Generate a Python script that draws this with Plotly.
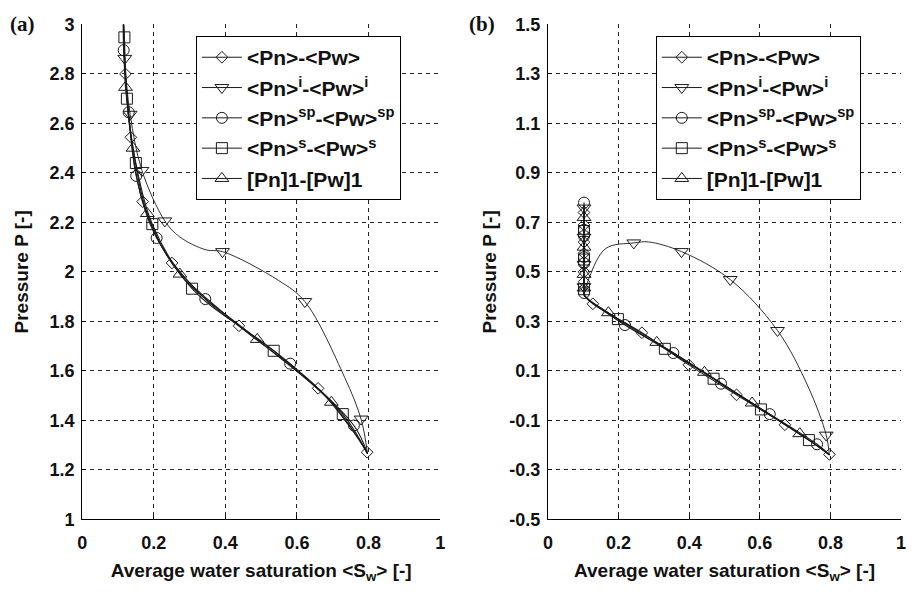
import plotly.graph_objects as go

# ---------------- Panel (a) data ----------------
A_START = (0.115, 3.05)
A_END = (0.797, 1.265)

A_D_X = [0.121, 0.136, 0.169, 0.251, 0.438, 0.659, 0.796]
A_D_Y = [2.800, 2.544, 2.284, 2.036, 1.782, 1.529, 1.271]

A_I_X = [0.119, 0.134, 0.167, 0.231, 0.392, 0.622, 0.779]
A_I_Y = [2.863, 2.637, 2.410, 2.206, 2.082, 1.880, 1.405]
A_I_PATH_X = [0.115, 0.119, 0.134, 0.167, 0.231, 0.273, 0.346, 0.392, 0.549, 0.622, 0.733, 0.779, 0.797]
A_I_PATH_Y = [3.05, 2.863, 2.637, 2.410, 2.206, 2.141, 2.089, 2.082, 1.965, 1.880, 1.574, 1.405, 1.265]

A_SP_X = [0.116, 0.130, 0.151, 0.208, 0.344, 0.581, 0.759]
A_SP_Y = [2.896, 2.645, 2.388, 2.137, 1.890, 1.629, 1.379]

A_S_X = [0.118, 0.125, 0.150, 0.196, 0.307, 0.535, 0.728]
A_S_Y = [2.948, 2.700, 2.440, 2.193, 1.932, 1.681, 1.425]

A_1_X = [0.121, 0.142, 0.182, 0.273, 0.489, 0.696]
A_1_Y = [2.746, 2.500, 2.236, 1.991, 1.727, 1.473]

# ---------------- Panel (b) data ----------------
B_START = (0.102, 0.77)
B_CORNER = (0.103, 0.405)
B_END = (0.797, -0.24)

B_D_X = [0.102, 0.102, 0.102, 0.102, 0.102, 0.102, 0.127, 0.266, 0.399, 0.534, 0.671, 0.797]
B_D_Y = [0.740, 0.690, 0.620, 0.575, 0.500, 0.460, 0.371, 0.254, 0.124, 0.003, -0.118, -0.238]

B_I_X = [0.102, 0.102, 0.102, 0.102, 0.243, 0.378, 0.516, 0.650, 0.788]
B_I_Y = [0.758, 0.640, 0.530, 0.440, 0.617, 0.582, 0.469, 0.263, -0.160]
B_I_PATH_X = [0.102, 0.102, 0.102, 0.102, 0.102, 0.103, None,
              0.103, 0.117, 0.164, 0.243, 0.285, 0.378, 0.516, 0.650, 0.737, 0.788, 0.797]
B_I_PATH_Y = [0.770, 0.758, 0.640, 0.530, 0.440, 0.410, None,
              0.410, 0.478, 0.595, 0.617, 0.621, 0.582, 0.469, 0.263, 0.035, -0.160, -0.240]

B_SP_X = [0.102, 0.102, 0.102, 0.102, 0.102, 0.102, 0.218, 0.355, 0.490, 0.628, 0.762]
B_SP_Y = [0.780, 0.670, 0.645, 0.560, 0.535, 0.415, 0.285, 0.172, 0.048, -0.075, -0.197]

B_S_X = [0.102, 0.102, 0.102, 0.198, 0.331, 0.469, 0.603, 0.739]
B_S_Y = [0.665, 0.550, 0.430, 0.309, 0.189, 0.068, -0.056, -0.180]

B_1_X = [0.102, 0.102, 0.102, 0.102, 0.171, 0.308, 0.443, 0.578, 0.713]
B_1_Y = [0.720, 0.600, 0.490, 0.435, 0.335, 0.215, 0.094, -0.030, -0.154]

# ---------------- Axis ticks / labels ----------------
X_TICKS = [0, 0.2, 0.4, 0.6, 0.8, 1.0]
X_TICKTEXT = ["0", "0.2", "0.4", "0.6", "0.8", "1"]
A_Y_TICKS = [1.0, 1.2, 1.4, 1.6, 1.8, 2.0, 2.2, 2.4, 2.6, 2.8, 3.0]
A_Y_TICKTEXT = ["1", "1.2", "1.4", "1.6", "1.8", "2", "2.2", "2.4", "2.6", "2.8", "3"]
B_Y_TICKS = [-0.5, -0.3, -0.1, 0.1, 0.3, 0.5, 0.7, 0.9, 1.1, 1.3, 1.5]
B_Y_TICKTEXT = ["-0.5", "-0.3", "-0.1", "0.1", "0.3", "0.5", "0.7", "0.9", "1.1", "1.3", "1.5"]

LEGEND_NAMES = [
    "&lt;Pn&gt;-&lt;Pw&gt;",
    "&lt;Pn&gt;<sup>i</sup>-&lt;Pw&gt;<sup>i</sup>",
    "&lt;Pn&gt;<sup>sp</sup>-&lt;Pw&gt;<sup>sp</sup>",
    "&lt;Pn&gt;<sup>s</sup>-&lt;Pw&gt;<sup>s</sup>",
    "[Pn]1-[Pw]1",
]
SYMBOLS = ["diamond-open", "triangle-down-open", "circle-open", "square-open", "triangle-up-open"]
SIZES = [9, 12, 11, 11, 12]

INK = "#1a1a1a"
SANS = "Liberation Sans"

fig = go.Figure()


def add_line(xs, ys, xa, ya, width=1.1):
    fig.add_trace(go.Scatter(x=xs, y=ys, mode="lines", xaxis=xa, yaxis=ya,
                             line=dict(color=INK, width=width, shape="spline", smoothing=1.0),
                             connectgaps=False, showlegend=False, hoverinfo="skip"))


def add_marks(xs, ys, xa, ya, k):
    fig.add_trace(go.Scatter(x=xs, y=ys, mode="markers", xaxis=xa, yaxis=ya,
                             marker=dict(symbol=SYMBOLS[k], size=SIZES[k], color=INK,
                                         line=dict(color=INK, width=1)),
                             showlegend=False))


# panel (a)
a_main = [(A_D_X, A_D_Y, 0), (A_SP_X, A_SP_Y, 2), (A_S_X, A_S_Y, 3), (A_1_X, A_1_Y, 4)]
for xs, ys, k in a_main:
    add_line([A_START[0]] + xs + [A_END[0]], [A_START[1]] + ys + [A_END[1]], "x", "y")
add_line(A_I_PATH_X, A_I_PATH_Y, "x", "y", width=0.9)
for xs, ys, k in a_main + [(A_I_X, A_I_Y, 1)]:
    add_marks(xs, ys, "x", "y", k)


# panel (b)
def b_path(xs, ys):
    nv = sum(1 for v in xs if v <= 0.105)
    px = [B_START[0]] + xs[:nv] + [B_CORNER[0]] + xs[nv:] + [B_END[0]]
    py = [B_START[1]] + ys[:nv] + [B_CORNER[1]] + ys[nv:] + [B_END[1]]
    return px, py


b_main = [(B_D_X, B_D_Y, 0), (B_SP_X, B_SP_Y, 2), (B_S_X, B_S_Y, 3), (B_1_X, B_1_Y, 4)]
for xs, ys, k in b_main:
    px, py = b_path(xs, ys)
    add_line(px, py, "x2", "y2")
add_line(B_I_PATH_X, B_I_PATH_Y, "x2", "y2", width=0.9)
for xs, ys, k in b_main + [(B_I_X, B_I_Y, 1)]:
    add_marks(xs, ys, "x2", "y2", k)

# legend entries
for lg in ["legend", "legend2"]:
    for k, name in enumerate(LEGEND_NAMES):
        fig.add_trace(go.Scatter(x=[None], y=[None], mode="lines+markers", name=name,
                                 legend=lg, legendgroup=lg + str(k),
                                 line=dict(color=INK, width=1),
                                 marker=dict(symbol=SYMBOLS[k], size=SIZES[k], color=INK,
                                             line=dict(color=INK, width=1)),
                                 xaxis="x" if lg == "legend" else "x2",
                                 yaxis="y" if lg == "legend" else "y2"))

W, H = 914, 594
ydom = [(H - 527) / H, (H - 15) / H]

tickfont = dict(family=SANS, size=18, color="#111", weight="bold")
grid = dict(showgrid=True, gridcolor="#222", gridwidth=1, griddash="4px,4px",
            showline=True, linecolor="#000", linewidth=1, mirror=False,
            ticks="inside", ticklen=4, tickcolor="#000", zeroline=False,
            tickfont=tickfont)

title_font = dict(family=SANS, size=19, color="#111", weight="bold")
xtitle = "Average water saturation &lt;S<sub>w</sub>&gt; [-]"
legfont = dict(family=SANS, size=21, color="#111", weight="bold")

fig.update_layout(
    width=W, height=H, margin=dict(l=0, r=0, t=0, b=0),
    paper_bgcolor="white", plot_bgcolor="white",
    xaxis=dict(domain=[78 / W, 440 / W], range=[0, 1], tickvals=X_TICKS, ticktext=X_TICKTEXT,
               ticklabelstandoff=7,
               title=dict(text=xtitle, font=title_font, standoff=11), anchor="y", **grid),
    yaxis=dict(domain=ydom, range=[1, 3], tickvals=A_Y_TICKS, ticktext=A_Y_TICKTEXT,
               ticklabelstandoff=3,
               title=dict(text="Pressure P [-]", font=title_font, standoff=15), anchor="x", **grid),
    xaxis2=dict(domain=[549 / W, 906 / W], range=[0, 1], tickvals=X_TICKS, ticktext=X_TICKTEXT,
                ticklabelstandoff=7,
                title=dict(text=xtitle, font=title_font, standoff=11), anchor="y2", **grid),
    yaxis2=dict(domain=ydom, range=[-0.5, 1.5], tickvals=B_Y_TICKS, ticktext=B_Y_TICKTEXT,
                ticklabelstandoff=3,
                title=dict(text="Pressure P [-]", font=title_font, standoff=7), anchor="x2", **grid),
    legend=dict(x=193 / W, y=1 - 27 / H, xanchor="left", yanchor="top",
                bordercolor="#000", borderwidth=1, bgcolor="white", font=legfont,
                tracegroupgap=0, traceorder="grouped", itemsizing="trace", itemwidth=40),
    legend2=dict(x=658 / W, y=1 - 27 / H, xanchor="left", yanchor="top",
                 bordercolor="#000", borderwidth=1, bgcolor="white", font=legfont,
                 tracegroupgap=0, traceorder="grouped", itemsizing="trace", itemwidth=40),
    annotations=[
        dict(text="(a)", x=3 / W, y=1 - 15 / H, xref="paper", yref="paper",
             xanchor="left", yanchor="middle", showarrow=False,
             font=dict(family="Liberation Serif", size=21, color="#111", weight="bold")),
        dict(text="(b)", x=467 / W, y=1 - 15 / H, xref="paper", yref="paper",
             xanchor="left", yanchor="middle", showarrow=False,
             font=dict(family="Liberation Serif", size=21, color="#111", weight="bold")),
    ],
)

fig.write_html("out.html")
